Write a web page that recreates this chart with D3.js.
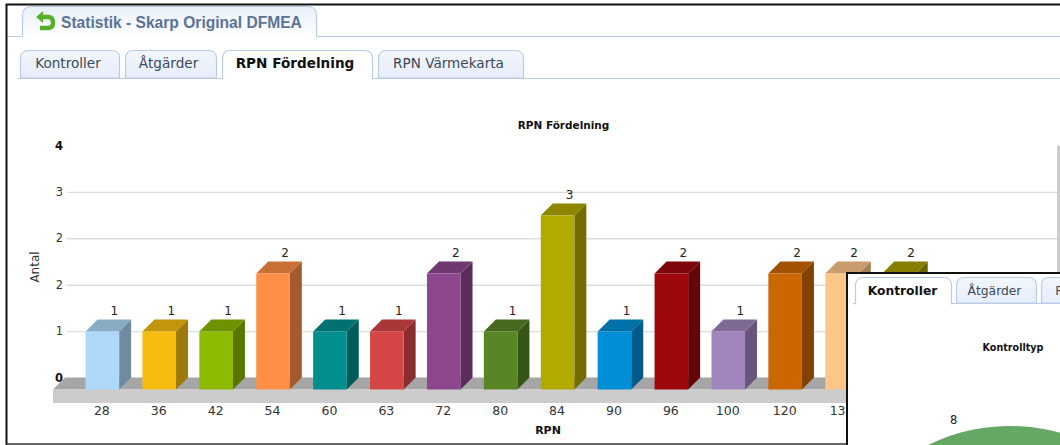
<!DOCTYPE html>
<html>
<head>
<meta charset="utf-8">
<title>RPN Fördelning</title>
<script src="https://cdn.jsdelivr.net/npm/d3@7/dist/d3.min.js"></script>
<style>
  html, body { margin: 0; padding: 0; background: #fff; overflow: hidden; }
  svg { display: block; }
  text { font-family: "DejaVu Sans", sans-serif; }
</style>
</head>
<body>
<svg id="chart" width="1060" height="445"></svg>
<script>
// RPN distribution
const categories = ["28", "36", "42", "54", "60", "63", "72", "80", "84", "90", "96", "100", "120", "135", "144"];
const counts = [1, 1, 1, 2, 1, 1, 2, 1, 3, 1, 2, 1, 2, 2, 2];
const barColors = ["#afd8f8", "#f6bd0f", "#8bba00", "#ff8e46", "#008e8e", "#d64646", "#8e468e", "#588526", "#b3aa00", "#008ed6", "#9d080d", "#a186be", "#cc6600", "#fdc689", "#aba000"];
const axisTicks = [0, 0.8, 1.6, 2.4, 3.2, 4];
const mainTabs = [
  { label: "Kontroller", from: 20, to: 119, mid: 68 },
  { label: "Åtgärder", from: 125, to: 216, mid: 168.5 },
  { label: "RPN Fördelning", from: 222, to: 372, mid: 295, active: true },
  { label: "RPN Värmekarta", from: 378, to: 523, mid: 448.5 }
];
const insetTabs = [
  { label: "Kontroller", from: 855, to: 951, mid: 902.5, active: true },
  { label: "Åtgärder", from: 956, to: 1036, mid: 994.5 },
  { label: "RPN Fördelning", from: 1041, to: 1190, mid: 1102 }
];
const controlTypeValues = [8];

const svg = d3.select("#chart");

// Tab strip gradients
const defs = svg.append("defs");
const tabGrad = defs.append("linearGradient").attr("id", "tabFill").attr("x2", 0).attr("y2", 1);
tabGrad.append("stop").attr("offset", 0).attr("stop-color", "#f2f6fd");
tabGrad.append("stop").attr("offset", 1).attr("stop-color", "#e6eefa");
const headGrad = defs.append("linearGradient").attr("id", "headFill").attr("x2", 0).attr("y2", 1);
headGrad.append("stop").attr("offset", 0).attr("stop-color", "#e9f0fa");
headGrad.append("stop").attr("offset", 1).attr("stop-color", "#ffffff");

function tabPath(x0, x1, top, bottom, r) {
  return `M${x0},${bottom}V${top + r}Q${x0},${top} ${x0 + r},${top}H${x1 - r}Q${x1},${top} ${x1},${top + r}V${bottom}`;
}

function drawTabs(g, tabs, top, bottom, lineFrom, lineTo, fontSize, textY) {
  g.append("line").attr("x1", lineFrom).attr("x2", lineTo).attr("y1", bottom + 0.5).attr("y2", bottom + 0.5)
    .attr("stroke", "#b9cce6").attr("stroke-width", 1.2);
  tabs.forEach(t => {
    const activeBottom = t.active ? bottom + 1.5 : bottom;
    g.append("path").attr("d", tabPath(t.from + 0.5, t.to + 0.5, top + 0.5, activeBottom, 8) + (t.active ? "" : "Z"))
      .attr("fill", t.active ? "#fff" : "url(#tabFill)")
      .attr("stroke", "#b9cce6").attr("stroke-width", 1.2);
    g.append("text").attr("x", t.mid).attr("y", textY)
      .attr("text-anchor", "middle").attr("font-size", fontSize)
      .attr("font-weight", t.active ? "bold" : "normal")
      .attr("fill", t.active ? "#111" : "#3c4858").text(t.label);
  });
}

// Window header
const header = svg.append("g");
header.append("line").attr("x1", 7).attr("x2", 1060).attr("y1", 36.5).attr("y2", 36.5)
  .attr("stroke", "#b9cce6").attr("stroke-width", 1.2);
header.append("path").attr("d", tabPath(22.5, 316.5, 6.5, 37, 9))
  .attr("fill", "url(#headFill)").attr("stroke", "#b9cce6").attr("stroke-width", 1.2);
header.append("path").attr("d", "M40,17H48Q53,17 53,22.5Q53,28 48,28H40")
  .attr("fill", "none").attr("stroke", "#58b02a").attr("stroke-width", 4.5);
header.append("path").attr("d", "M36,17L43,11V23Z").attr("fill", "#58b02a");
header.append("text").attr("x", 61).attr("y", 28)
  .style("font-family", "'Liberation Sans', Arial, sans-serif")
  .attr("font-size", 15.6).attr("font-weight", "bold").attr("fill", "#5a7396")
  .text("Statistik - Skarp Original DFMEA");

drawTabs(svg.append("g"), mainTabs, 50, 78, 18, 1060, 13.6, 68);

// Chart scales: the back wall sits up and to the right of the bar fronts
const depth = 12;
const x = d3.scaleBand().domain(categories)
  .range([73.9, 73.9 + 56.9 * categories.length])
  .paddingInner(0.41).paddingOuter(0.205);
const y = d3.scaleLinear().domain([0, 4]).range([389.5, 157.5]);
const yBack = d3.scaleLinear().domain([0, 4]).range([389.5 - depth, 157.5 - depth]);
const floorLeft = 53, floorRight = 1056;

const chart = svg.append("g");

chart.append("text").attr("x", 563.5).attr("y", 129).attr("text-anchor", "middle")
  .attr("font-size", 10.5).attr("font-weight", "bold").attr("fill", "#111").text("RPN Fördelning");

// Right wall edge
chart.append("rect").attr("x", floorRight + 1).attr("y", yBack(4)).attr("width", 3).attr("height", 130).attr("fill", "#cccccc");

// Value axis with gridlines on the back wall
const yAxis = d3.axisLeft(yBack).tickValues(axisTicks).tickFormat(d3.format(".0f"))
  .tickSize(-(floorRight + 1 - floorLeft - 14)).tickPadding(4);
const yAxisG = chart.append("g").attr("transform", `translate(${floorLeft + 14},0)`).call(yAxis);
yAxisG.select(".domain").remove();
yAxisG.selectAll(".tick line").attr("stroke", "#dddddd").attr("stroke-width", 1.4)
  .attr("display", d => (d === 0 || d === 4) ? "none" : null);
yAxisG.selectAll(".tick text").attr("font-size", 11.5)
  .attr("font-family", "'DejaVu Sans', sans-serif")
  .attr("font-weight", d => (d === 0 || d === 4) ? "bold" : "normal")
  .attr("fill", d => (d === 0 || d === 4) ? "#111" : "#333");

chart.append("text").attr("transform", "translate(39,267) rotate(-90)").attr("text-anchor", "middle")
  .attr("font-size", 12).attr("fill", "#333").text("Antal");

// Floor
chart.append("path")
  .attr("d", `M${floorLeft},${y(0)}L${floorLeft + depth},${yBack(0)}H${floorRight + depth}L${floorRight},${y(0)}Z`)
  .attr("fill", "#a6a6a6");
chart.append("rect").attr("x", floorLeft).attr("y", y(0)).attr("width", floorRight - floorLeft).attr("height", 13.5).attr("fill", "#cccccc");

// 3D bars
const bars = chart.selectAll("g.bar").data(categories.map((c, i) => ({ c, v: counts[i], color: barColors[i] })))
  .join("g").attr("class", "bar");
const shade = (col, k) => {
  const c = d3.rgb(col);
  return d3.rgb(c.r * k, c.g * k, c.b * k).formatHex();
};
bars.append("path")
  .attr("d", d => {
    const r = x(d.c) + x.bandwidth();
    return `M${r},${y(d.v)}L${r + depth},${yBack(d.v)}V${yBack(0)}L${r},${y(0)}Z`;
  })
  .attr("fill", d => shade(d.color, 0.64));
bars.append("path")
  .attr("d", d => {
    const l = x(d.c), r = l + x.bandwidth();
    return `M${l},${y(d.v)}L${l + depth},${yBack(d.v)}H${r + depth}L${r},${y(d.v)}Z`;
  })
  .attr("fill", d => shade(d.color, 0.79));
bars.append("rect")
  .attr("x", d => x(d.c)).attr("y", d => y(d.v))
  .attr("width", x.bandwidth()).attr("height", d => y(0) - y(d.v))
  .attr("fill", d => d.color);
bars.append("text")
  .attr("x", d => x(d.c) + x.bandwidth() / 2 + depth)
  .attr("y", d => yBack(d.v) - 5)
  .attr("text-anchor", "middle").attr("font-size", 12).attr("fill", "#222")
  .text(d => d.v);

// Category axis below the floor
const xAxis = d3.axisBottom(x).tickSize(0).tickPadding(0);
const xAxisG = chart.append("g").attr("transform", "translate(-0.5,406)").call(xAxis);
xAxisG.select(".domain").remove();
xAxisG.selectAll("text").attr("font-size", 12.5).attr("fill", "#333")
  .attr("font-family", "'DejaVu Sans', sans-serif");
chart.append("text").attr("x", 548).attr("y", 434).attr("text-anchor", "middle")
  .attr("font-size", 11).attr("font-weight", "bold").attr("fill", "#111").text("RPN");

// Outer window frame
svg.append("path").attr("d", "M6.5,445V4.5H1060").attr("fill", "none").attr("stroke", "#111").attr("stroke-width", 2);
svg.append("line").attr("x1", 6).attr("x2", 847).attr("y1", 444).attr("y2", 444).attr("stroke", "#333").attr("stroke-width", 1.5);

// Inset window showing the control type chart
const inset = svg.append("g");
inset.append("rect").attr("x", 847).attr("y", 273).attr("width", 214).attr("height", 173)
  .attr("fill", "#fff").attr("stroke", "#111").attr("stroke-width", 2);
drawTabs(inset, insetTabs, 277, 303, 853, 1060, 12.3, 295);
inset.append("text").attr("x", 1013).attr("y", 351).attr("text-anchor", "middle")
  .attr("font-size", 9.6).attr("font-weight", "bold").attr("fill", "#111").text("Kontrolltyp");

const pieCentre = [1010, 612];
const pieRadius = 186;
const pieSlices = d3.pie().sort(null)(controlTypeValues);
const arc = d3.arc().innerRadius(0).outerRadius(pieRadius);
const pieClip = defs.append("clipPath").attr("id", "insetClip");
pieClip.append("rect").attr("x", 848).attr("y", 274).attr("width", 212).attr("height", 171);
const pieG = inset.append("g").attr("clip-path", "url(#insetClip)")
  .append("g").attr("transform", `translate(${pieCentre})`);
pieG.selectAll("path").data(pieSlices).join("path").attr("d", arc).attr("fill", "#64a864");
const labelArc = d3.arc().innerRadius(pieRadius + 14).outerRadius(pieRadius + 14);
pieG.selectAll("text").data(pieSlices).join("text")
  .attr("transform", d => {
    const a = -0.285;
    return `translate(${labelArc.centroid({ startAngle: a, endAngle: a })})`;
  })
  .attr("text-anchor", "middle").attr("dy", "0.35em").attr("font-size", 11.5).attr("fill", "#222")
  .text(d => d.value);
</script>
</body>
</html>
